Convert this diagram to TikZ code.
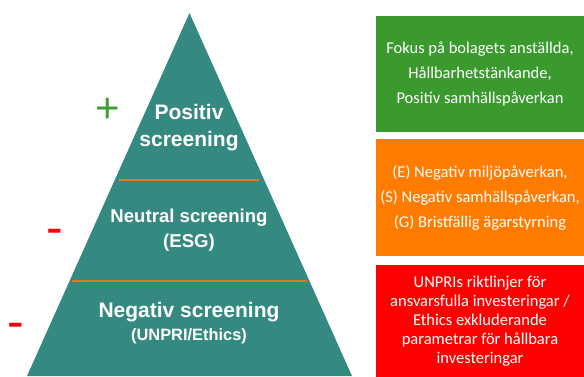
\documentclass[tikz,border=0pt]{standalone}
\usepackage{fontspec}
\setmainfont{Liberation Sans}
\newfontfamily\boxfont{Carlito}
\usetikzlibrary{positioning}

\definecolor{pyrteal}{RGB}{52,138,128}
\definecolor{sepor}{RGB}{232,120,28}
\definecolor{boxgreen}{RGB}{58,154,46}
\definecolor{boxorange}{RGB}{255,124,0}
\definecolor{boxred}{RGB}{255,0,0}
\definecolor{signgreen}{RGB}{62,160,52}

\begin{document}
\begin{tikzpicture}[
    x=1pt, y=-1pt,
    pyrlabel/.style={text=white, align=center, inner sep=0pt, font=\bfseries},
    sepline/.style={draw=sepor, line width=2pt},
    infobox/.style={text=white, align=center, inner sep=0pt, minimum width=208pt,
        font=\boxfont\fontsize{16.5}{25}\selectfont},
    sign/.style={anchor=base, inner sep=0pt}
]
    \useasboundingbox (0,0) rectangle (584,376);

    % Pyramid
    \coordinate (apex) at (189.5,13);
    \coordinate (baseL) at (27,376);
    \coordinate (baseR) at (352,376);
    \fill[pyrteal] (apex) -- (baseL) -- (baseR) -- cycle;
    \draw[sepline] (119,180) -- (259,180);
    \draw[sepline] (72,281) -- (307,281);

    % Pyramid Labels
    \node[pyrlabel, font=\bfseries\fontsize{21}{27}\selectfont] (poslbl) at (189,128) {Positiv\\screening};
    \node[pyrlabel, font=\bfseries\fontsize{18.6}{25}\selectfont] (neulbl) at (189,230) {Neutral screening\\(ESG)};
    \node[pyrlabel, font=\bfseries\fontsize{21}{23}\selectfont] (neglbl) at (189,323) {Negativ screening\\{\fontsize{16.4}{23}\selectfont (UNPRI/Ethics)}};

    % Signs
    \node[sign, text=signgreen, font=\fontsize{42}{42}\selectfont] (plus) at (108,122) {+};
    \node[sign, text=boxred, font=\fontsize{50}{50}\selectfont] (minusA) at (55,244) {-};
    \node[sign, text=boxred, font=\fontsize{50}{50}\selectfont] (minusB) at (16,338) {-};

    % Right Boxes
    \node[infobox, fill=boxgreen, minimum height=116pt] (posbox) at (480,74) {
        Fokus på bolagets anställda,\\
        Hållbarhetstänkande,\\
        Positiv samhällspåverkan
    };
    \node[infobox, fill=boxorange, minimum height=117pt, below=7pt of posbox] (neubox) {
        (E) Negativ miljöpåverkan,\\
        (S) Negativ samhällspåverkan,\\
        (G) Bristfällig ägarstyrning
    };
    \node[infobox, fill=boxred, minimum height=112pt, below=8pt of neubox,
        font=\boxfont\fontsize{16.5}{19}\selectfont] (negbox) {
        UNPRIs riktlinjer för\\
        ansvarsfulla investeringar /\\
        Ethics exkluderande\\
        parametrar för hållbara\\
        investeringar
    };
\end{tikzpicture}
\end{document}
